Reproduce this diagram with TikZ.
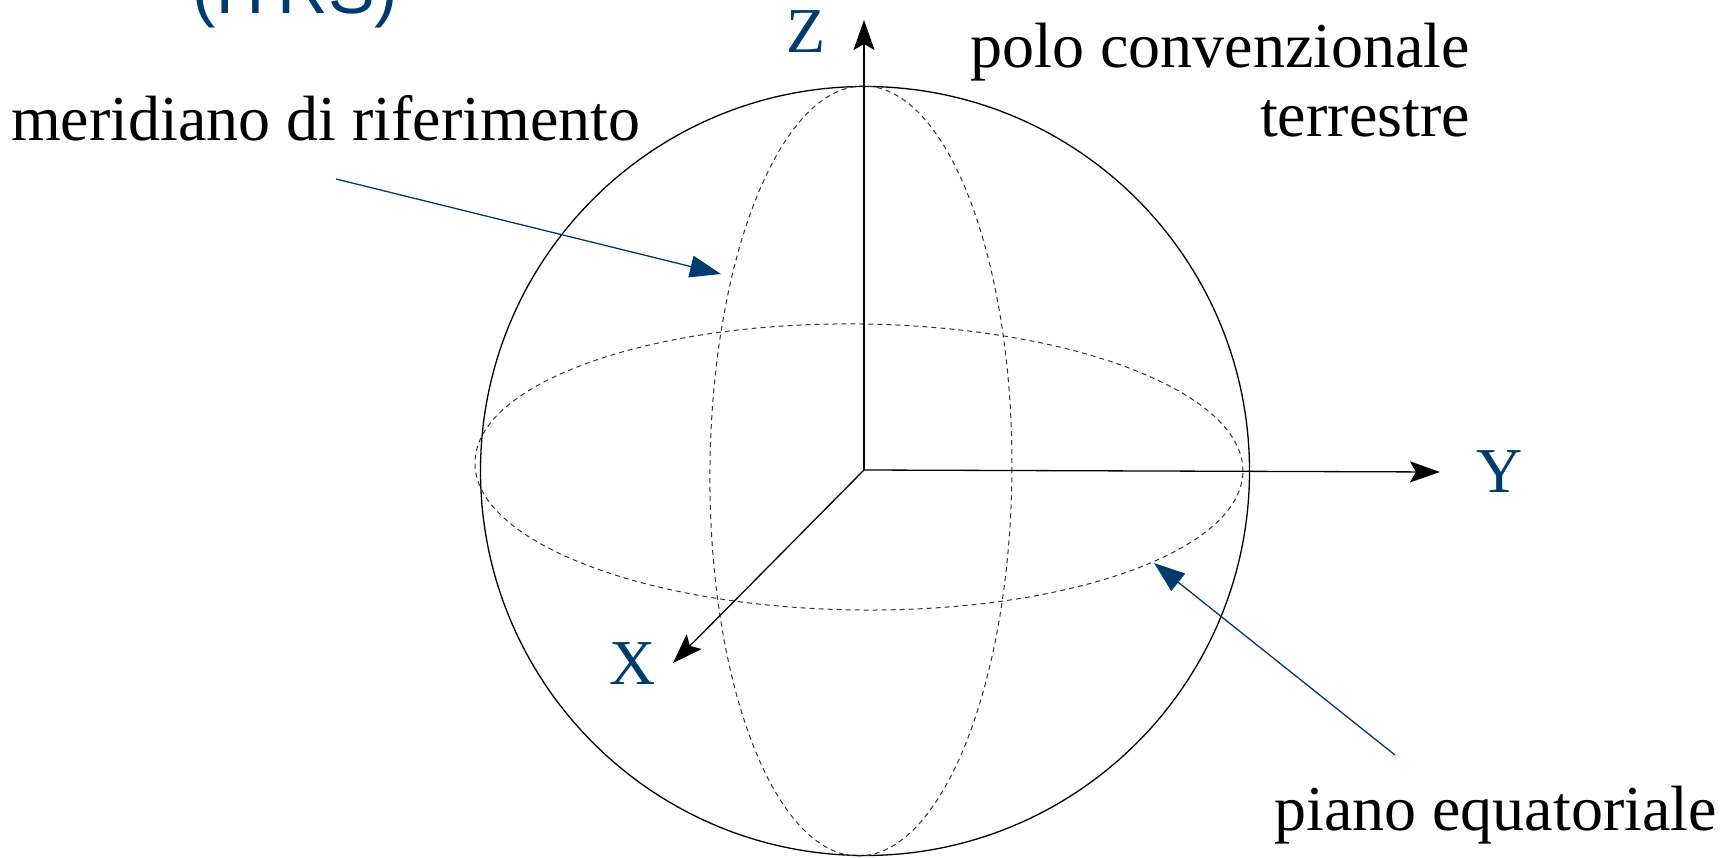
\documentclass[tikz,border=0pt]{standalone}
\usepackage{fontspec}
\setmainfont{Liberation Serif}
\newfontfamily\itrsfont{Liberation Sans}
\usetikzlibrary{arrows.meta}
\definecolor{itrsblue}{RGB}{0,59,110}
\tikzset{
  txt/.style={inner sep=0pt, font=\fontsize{64}{69}\selectfont},
  axlabel/.style={inner sep=0pt, text=itrsblue, font=\fontsize{64}{69}\selectfont},
  axis/.style={line width=1.3pt, -{Stealth[length=30pt,width=21pt,inset=6pt]}},
  pointer/.style={line width=1.3pt, draw=itrsblue, -{Triangle[length=31pt,width=22pt,fill=itrsblue]}},
  hidden/.style={line width=1pt, draw=black!80, dash pattern=on 5pt off 4pt},
}
\begin{document}
\begin{tikzpicture}[x=1pt,y=-1pt]
\useasboundingbox (0,0) rectangle (1729,858);
% title fragment
\node[inner sep=0pt, anchor=base west, text=itrsblue, font=\itrsfont\fontsize{70}{80}\selectfont] (title) at (192,14) {(ITRS)};
% sphere
\coordinate (C) at (865,471);
\draw[line width=1.3pt] (C) circle[radius=384.5pt];
% equatorial plane and meridian
\coordinate (Ec) at (859,467);
\draw[hidden, rotate around={-0.67:(Ec)}] (Ec) ellipse[x radius=384pt, y radius=143pt];
\coordinate (Mc) at (861,471);
\draw[hidden, rotate around={-0.45:(Mc)}] (Mc) ellipse[x radius=151pt, y radius=385pt];
% axes
\coordinate (O) at (864,470);
\coordinate (Zt) at (864,20);
\coordinate (Yt) at (1440,472);
\coordinate (Xt) at (673,663);
\draw[axis] (O) -- (Zt);
\draw[axis] (O) -- (Yt);
\draw[axis] (O) -- (Xt);
\node[axlabel, anchor=base west] (Zl) at (786,53) {Z};
\node[axlabel, anchor=base west] (Yl) at (1476,492) {Y};
\node[axlabel, anchor=base west] (Xl) at (609,684) {X};
% texts
\node[txt, anchor=base west] (mer) at (11,141) {meridiano di riferimento};
\node[txt, anchor=base east] (polo1) at (1470,68) {polo convenzionale};
\node[txt, anchor=base east] (polo2) at (1470,137) {terrestre};
\node[txt, anchor=base east] (piano) at (1717,830) {piano equatoriale};
% pointers
\coordinate (m0) at (336,179);
\coordinate (m1) at (721,274);
\draw[pointer] (m0) -- (m1);
\coordinate (p0) at (1395,755);
\coordinate (p1) at (1154,563);
\draw[pointer] (p0) -- (p1);
\end{tikzpicture}
\end{document}
